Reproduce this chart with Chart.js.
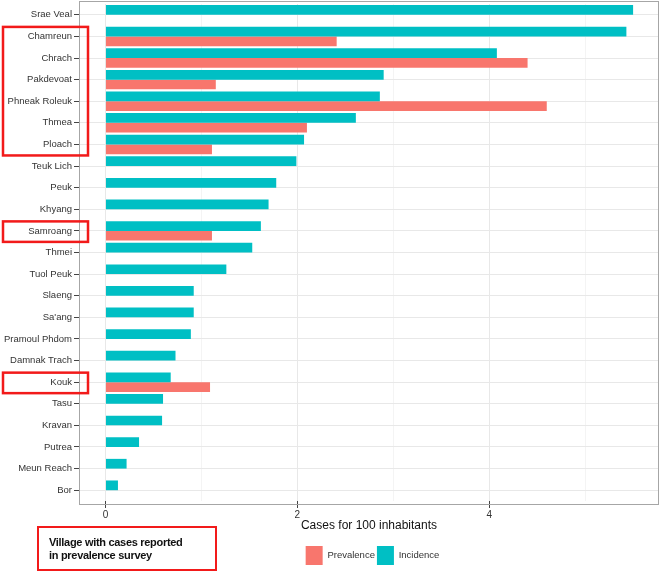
<!DOCTYPE html>
<html>
<head>
<meta charset="utf-8">
<script src="https://cdn.jsdelivr.net/npm/chart.js@4.4.0/dist/chart.umd.min.js"></script>
<style>
  html, body { margin: 0; padding: 0; background: #fff; }
  #wrap { position: relative; width: 661px; height: 571px; }
  #note {
    position: absolute; left: 37px; top: 526px; width: 180px; height: 45px;
    box-sizing: border-box; border: 2px solid #f21a1a;
    padding: 8px 0 0 10px;
    font: bold 11px "Liberation Sans", Arial, sans-serif;
    letter-spacing: -0.3px;
    line-height: 12.5px; color: #111;
  }
</style>
</head>
<body>
<div id="wrap">
  <canvas id="chart" width="661" height="571"></canvas>
  <div id="note">Village with cases reported<br>in prevalence survey</div>
</div>
<script>
const villages = ["Srae Veal", "Chamreun", "Chrach", "Pakdevoat", "Phneak Roleuk", "Thmea", "Ploach",
  "Teuk Lich", "Peuk", "Khyang", "Samroang", "Thmei", "Tuol Peuk", "Slaeng", "Sa'ang",
  "Pramoul Phdom", "Damnak Trach", "Kouk", "Tasu", "Kravan", "Putrea", "Meun Reach", "Bor"];
const incidence = [5.50, 5.43, 4.08, 2.90, 2.86, 2.61, 2.07, 1.99, 1.78, 1.70, 1.62, 1.53, 1.26,
  0.92, 0.92, 0.89, 0.73, 0.68, 0.60, 0.59, 0.35, 0.22, 0.13];
const prevalence = [null, 2.41, 4.40, 1.15, 4.60, 2.10, 1.11, null, null, null, 1.11, null, null,
  null, null, null, null, 1.09, null, null, null, null, null];
const xMin = -0.276, xMax = 5.77;
const xLabelled = [0, 2, 4];

const fontFamily = '"Liberation Sans", Arial, sans-serif';

// frame around the panel (a little taller than the chart area, like ggplot's expansion)
const framePlugin = {
  id: 'frame',
  afterDraw(chart) {
    const a = chart.chartArea, ctx = chart.ctx;
    ctx.save();
    ctx.strokeStyle = '#a6a6a6';
    ctx.lineWidth = 1;
    ctx.strokeRect(a.left + 0.5, a.top - 3 + 0.5, a.right - a.left - 1, a.bottom - a.top + 6);
    ctx.restore();
  }
};

// red boxes round villages that have a prevalence value
const markPlugin = {
  id: 'marks',
  afterDraw(chart) {
    const y = chart.scales.y, ctx = chart.ctx;
    const runs = [];
    let start = -1;
    prevalence.forEach((v, i) => {
      if (v != null && start < 0) start = i;
      if ((v == null || i == prevalence.length - 1) && start >= 0) {
        runs.push([start, v == null ? i - 1 : i]);
        start = -1;
      }
    });
    ctx.save();
    ctx.strokeStyle = '#f21a1a';
    ctx.lineWidth = 2.5;
    runs.forEach(r => {
      const top = y.getPixelForValue(r[0]) - 9.5;
      const bottom = y.getPixelForValue(r[1]) + 11;
      ctx.strokeRect(y.left + 3, top, y.right - y.left + 6, bottom - top);
    });
    ctx.restore();
  }
};

// put the legend under the panel centre
const legendShift = {
  id: 'legendShift',
  afterLayout(chart) {
    const lg = chart.legend, a = chart.chartArea;
    const dx = (a.left + a.right) / 2 + 3.5 - (lg.left + lg.right) / 2;
    const dy = 544 - lg.top;
    lg.left += dx; lg.right += dx;
    lg.top += dy; lg.bottom += dy;
  }
};

new Chart(document.getElementById('chart'), {
  type: 'bar',
  data: {
    labels: villages,
    datasets: [
      { label: 'Incidence', data: incidence, backgroundColor: '#00BFC4' },
      { label: 'Prevalence', data: prevalence, backgroundColor: '#F8766D' }
    ]
  },
  options: {
    indexAxis: 'y',
    responsive: false,
    animation: false,
    layout: { padding: { left: 0, right: 2, top: 4, bottom: 7 } },
    datasets: { bar: { categoryPercentage: 0.9, barPercentage: 1.0 } },
    scales: {
      x: {
        type: 'linear',
        min: xMin,
        max: xMax,
        border: { display: false },
        grid: {
          color: ctx => xLabelled.includes(ctx.tick.value) ? '#e8e8e8' : '#f4f4f4',
          tickColor: ctx => xLabelled.includes(ctx.tick.value) ? '#444' : 'rgba(0,0,0,0)',
          tickLength: 7
        },
        ticks: {
          stepSize: 1,
          includeBounds: false,
          color: '#333',
          padding: 1,
          maxRotation: 0,
          font: { family: fontFamily, size: 10 },
          callback: v => xLabelled.includes(v) ? String(v) : ''
        },
        title: {
          display: true,
          text: 'Cases for 100 inhabitants',
          color: '#111',
          font: { family: fontFamily, size: 12 },
          padding: { top: 0, bottom: 0 }
        },
        afterFit: s => { s.height = 32; }
      },
      y: {
        border: { display: false },
        grid: { color: '#e8e8e8', tickColor: '#444', tickLength: 5, offset: false },
        ticks: { color: '#333', padding: 2, autoSkip: false, font: { family: fontFamily, size: 9.5 } },
        afterFit: s => { s.width = 79; s.paddingTop = 0; s.paddingBottom = 0; }
      }
    },
    plugins: {
      legend: {
        position: 'bottom',
        reverse: true,
        labels: {
          boxWidth: 17,
          boxHeight: 19,
          padding: 2,
          color: '#333',
          font: { family: fontFamily, size: 9.5 }
        }
      },
      tooltip: { enabled: false }
    }
  },
  plugins: [framePlugin, markPlugin, legendShift]
});
</script>
</body>
</html>
